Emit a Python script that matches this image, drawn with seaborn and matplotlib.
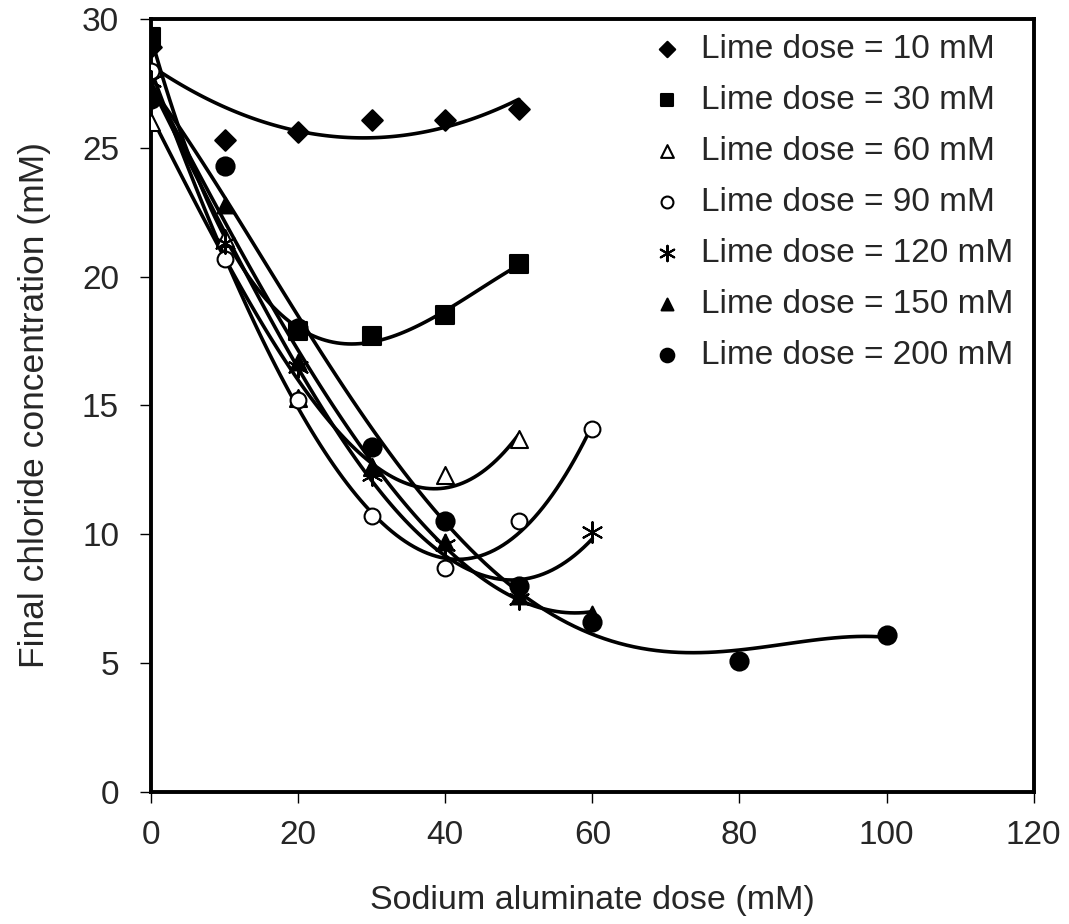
import seaborn as sns
import pandas as pd
import numpy as np
import matplotlib.pyplot as plt

# sodium aluminate dose (mM) and final chloride (mM) for each lime dose
x_10 = [0, 10, 20, 30, 40, 50]
y_10 = [28.9, 25.3, 25.6, 26.1, 26.1, 26.5]
x_30 = [0, 20, 30, 40, 50]
y_30 = [29.3, 17.9, 17.7, 18.5, 20.5]
x_60 = [0, 10, 20, 30, 40, 50]
y_60 = [26.0, 21.5, 15.3, 12.6, 12.3, 13.7]
x_90 = [0, 10, 20, 30, 40, 50, 60]
y_90 = [28.0, 20.7, 15.2, 10.7, 8.7, 10.5, 14.1]
x_120 = [0, 10, 20, 30, 40, 50, 60]
y_120 = [27.6, 21.3, 16.5, 12.3, 9.6, 7.5, 10.1]
x_150 = [0, 10, 20, 30, 40, 50, 60]
y_150 = [27.3, 22.8, 16.7, 12.6, 9.7, 7.6, 6.9]
x_200 = [0, 10, 20, 30, 40, 50, 60, 80, 100]
y_200 = [26.9, 24.3, 18.0, 13.4, 10.5, 8.0, 6.6, 5.1, 6.1]

labels = ['Lime dose = 10 mM', 'Lime dose = 30 mM', 'Lime dose = 60 mM',
          'Lime dose = 90 mM', 'Lime dose = 120 mM', 'Lime dose = 150 mM',
          'Lime dose = 200 mM']

series = [(x_10, y_10), (x_30, y_30), (x_60, y_60), (x_90, y_90),
          (x_120, y_120), (x_150, y_150), (x_200, y_200)]

# marker, size, facecolor, trend order
styles = [('D', 110, 'black', 2),
          ('s', 150, 'black', 3),
          ('^', 150, 'white', 3),
          ('o', 130, 'white', 3),
          ((6, 2, 0), 220, 'black', 3),
          ('^', 130, 'black', 3),
          ('o', 170, 'black', 4)]

sns.set_style('white')
plt.rcParams['font.family'] = ['Liberation Sans', 'DejaVu Sans']

fig = plt.figure(figsize=(10.69, 9.24), dpi=100)
ax = fig.add_axes([0.1413, 0.1429, 0.8257, 0.8365])

for (xs, ys), lab, (mk, sz, fc, order) in zip(series, labels, styles):
    df = pd.DataFrame({'x': xs, 'y': ys})
    sns.regplot(data=df, x='x', y='y', order=order, ci=None, ax=ax,
                marker=mk, label=lab, truncate=True,
                scatter_kws=dict(s=sz, facecolor=fc, edgecolor='black',
                                 linewidths=1.5, alpha=1, zorder=3),
                line_kws=dict(color='black', lw=2.6, zorder=2))

ax.set_xlim(0, 120)
ax.set_ylim(0, 30)
ax.set_xticks(range(0, 121, 20))
ax.set_yticks(range(0, 31, 5))
ax.tick_params(axis='both', direction='out', length=8, width=1, color='black',
               labelsize=24, bottom=True, left=True)
ax.tick_params(axis='x', pad=12)
ax.tick_params(axis='y', pad=15)
for sp in ax.spines.values():
    sp.set_linewidth(2.8)
    sp.set_color('black')

ax.set_xlabel('Sodium aluminate dose (mM)', fontsize=24.5, labelpad=25)
ax.set_ylabel('Final chloride concentration (mM)', fontsize=25.5, labelpad=22)

ax.legend(loc='upper left', bbox_to_anchor=(0.532, 0.998), frameon=False,
          fontsize=24, handletextpad=0.0, labelspacing=0.6, borderaxespad=0,
          markerscale=0.75)

fig.savefig('out.png', dpi=100)
